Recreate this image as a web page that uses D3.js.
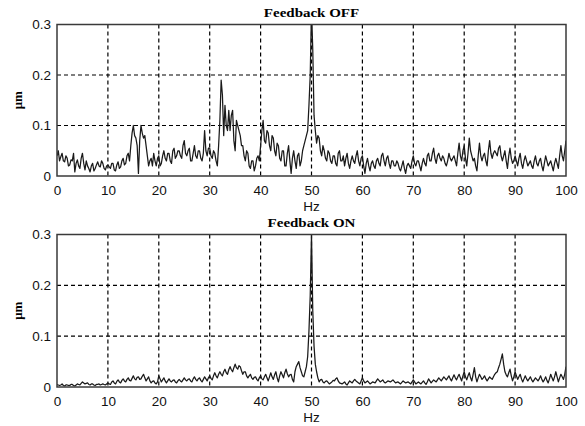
<!DOCTYPE html>
<html><head><meta charset="utf-8">
<script src="https://cdn.jsdelivr.net/npm/d3@7"></script>
<style>body{margin:0;background:#fff}svg{display:block}</style>
</head><body>
<svg id="c" width="585" height="426"></svg>
<script>
const freqStep = 0.25; // Hz between samples
const xTicks = [0,10,20,30,40,50,60,70,80,90,100];
const yTicks = [0,0.1,0.2,0.3];
const titles = ["Feedback OFF","Feedback ON"];
// amplitude (μm), one row per Hz: f, f+.25, f+.5, f+.75
const offValues = [
0.040,0.050,0.030,0.038, 0.045,0.030,0.028,0.040, 0.035,0.020,0.022,0.032, 0.030,0.045,0.008,0.025,
0.032,0.020,0.015,0.035, 0.045,0.025,0.012,0.030, 0.020,0.015,0.008,0.020, 0.025,0.010,0.015,0.022,
0.028,0.020,0.018,0.030, 0.025,0.015,0.012,0.020, 0.022,0.018,0.015,0.025, 0.025,0.012,0.010,0.022,
0.028,0.015,0.018,0.030, 0.035,0.022,0.025,0.040, 0.045,0.030,0.060,0.085, 0.100,0.080,0.075,0.060,
0.005,0.070,0.100,0.085, 0.075,0.080,0.060,0.040, 0.020,0.030,0.035,0.020, 0.045,0.030,0.020,0.035,
0.040,0.020,0.025,0.040, 0.050,0.035,0.030,0.045, 0.045,0.030,0.025,0.050, 0.055,0.035,0.040,0.050,
0.050,0.040,0.035,0.060, 0.070,0.045,0.040,0.050, 0.055,0.030,0.030,0.045, 0.060,0.040,0.035,0.050,
0.050,0.035,0.030,0.045, 0.090,0.050,0.040,0.055, 0.055,0.040,0.035,0.050, 0.045,0.030,0.020,0.060,
0.110,0.190,0.160,0.080, 0.140,0.100,0.090,0.130, 0.090,0.120,0.130,0.070, 0.050,0.110,0.100,0.090,
0.080,0.060,0.060,0.040, 0.030,0.050,0.045,0.020, 0.015,0.030,0.030,0.010, 0.020,0.035,0.040,0.030,
0.060,0.090,0.110,0.070, 0.065,0.090,0.085,0.060, 0.050,0.080,0.075,0.050, 0.040,0.065,0.060,0.035,
0.030,0.050,0.050,0.020, 0.020,0.045,0.060,0.030, 0.005,0.035,0.050,0.030, 0.015,0.040,0.045,0.020,
0.030,0.050,0.060,0.070, 0.080,0.090,0.140,0.200, 0.330,0.250,0.120,0.090, 0.065,0.080,0.075,0.050,
0.040,0.060,0.050,0.035, 0.030,0.050,0.045,0.030, 0.025,0.040,0.040,0.025, 0.020,0.045,0.050,0.030,
0.030,0.040,0.020,0.035, 0.045,0.025,0.015,0.030, 0.040,0.030,0.025,0.040, 0.050,0.030,0.020,0.035,
0.040,0.020,0.005,0.025, 0.035,0.020,0.010,0.025, 0.030,0.020,0.015,0.030, 0.035,0.025,0.020,0.040,
0.045,0.030,0.020,0.035, 0.040,0.025,0.015,0.030, 0.030,0.020,0.020,0.030, 0.025,0.015,0.010,0.020,
0.030,0.015,0.005,0.020, 0.025,0.020,0.015,0.030, 0.040,0.025,0.020,0.030, 0.030,0.020,0.010,0.025,
0.035,0.025,0.020,0.040, 0.045,0.030,0.030,0.045, 0.055,0.035,0.025,0.040, 0.045,0.035,0.030,0.040,
0.035,0.025,0.020,0.030, 0.045,0.035,0.030,0.035, 0.040,0.030,0.020,0.045, 0.065,0.040,0.030,0.050,
0.060,0.035,0.020,0.045, 0.075,0.050,0.040,0.030, 0.035,0.020,0.010,0.040, 0.065,0.040,0.030,0.040,
0.045,0.030,0.020,0.050, 0.070,0.045,0.035,0.045, 0.050,0.045,0.040,0.055, 0.060,0.040,0.030,0.040,
0.050,0.030,0.015,0.040, 0.055,0.035,0.025,0.030, 0.040,0.030,0.020,0.035, 0.045,0.025,0.015,0.030,
0.040,0.030,0.020,0.025, 0.030,0.020,0.015,0.030, 0.040,0.025,0.020,0.030, 0.035,0.020,0.010,0.025,
0.040,0.030,0.020,0.025, 0.030,0.020,0.010,0.025, 0.035,0.025,0.015,0.040, 0.060,0.040,0.030,0.050,
0.070];
const onValues = [
0.005,0.004,0.003,0.004, 0.006,0.003,0.002,0.004, 0.004,0.003,0.003,0.005, 0.005,0.003,0.002,0.004,
0.006,0.005,0.004,0.007, 0.010,0.008,0.006,0.007, 0.008,0.005,0.004,0.006, 0.006,0.004,0.003,0.005,
0.005,0.006,0.004,0.005, 0.006,0.005,0.004,0.006, 0.008,0.006,0.005,0.010, 0.012,0.008,0.006,0.011,
0.014,0.010,0.008,0.013, 0.016,0.012,0.010,0.015, 0.018,0.013,0.012,0.017, 0.022,0.016,0.014,0.019,
0.020,0.015,0.016,0.021, 0.025,0.018,0.012,0.016, 0.020,0.012,0.008,0.011, 0.012,0.008,0.006,0.010,
0.022,0.016,0.010,0.014, 0.018,0.012,0.008,0.012, 0.016,0.012,0.010,0.013, 0.014,0.010,0.008,0.012,
0.015,0.012,0.010,0.014, 0.018,0.014,0.012,0.015, 0.016,0.012,0.010,0.016, 0.020,0.015,0.012,0.016,
0.018,0.013,0.010,0.015, 0.020,0.016,0.012,0.018, 0.022,0.017,0.014,0.022, 0.028,0.022,0.018,0.025,
0.030,0.025,0.022,0.030, 0.035,0.028,0.025,0.034, 0.040,0.034,0.030,0.038, 0.045,0.038,0.035,0.042,
0.040,0.032,0.025,0.030, 0.030,0.022,0.018,0.022, 0.025,0.018,0.015,0.019, 0.020,0.015,0.012,0.018,
0.022,0.016,0.014,0.020, 0.025,0.018,0.012,0.020, 0.028,0.020,0.015,0.024, 0.030,0.018,0.010,0.022,
0.030,0.024,0.018,0.028, 0.035,0.026,0.020,0.024, 0.025,0.015,0.010,0.030, 0.040,0.045,0.050,0.038,
0.030,0.022,0.020,0.030, 0.040,0.060,0.110,0.180, 0.300,0.150,0.080,0.045, 0.030,0.018,0.010,0.014,
0.015,0.010,0.008,0.011, 0.012,0.009,0.006,0.008, 0.010,0.013,0.012,0.016, 0.018,0.012,0.008,0.007,
0.006,0.008,0.010,0.006, 0.004,0.008,0.012,0.010, 0.008,0.012,0.015,0.012, 0.010,0.008,0.006,0.012,
0.018,0.012,0.008,0.010, 0.012,0.009,0.006,0.008, 0.010,0.009,0.008,0.012, 0.016,0.013,0.010,0.012,
0.014,0.010,0.008,0.010, 0.012,0.011,0.010,0.012, 0.014,0.011,0.008,0.009, 0.010,0.008,0.006,0.009,
0.012,0.010,0.008,0.009, 0.010,0.008,0.006,0.010, 0.014,0.010,0.006,0.008, 0.010,0.008,0.006,0.009,
0.012,0.008,0.005,0.010, 0.016,0.012,0.008,0.011, 0.014,0.012,0.010,0.014, 0.018,0.015,0.012,0.016,
0.020,0.017,0.014,0.018, 0.022,0.016,0.012,0.018, 0.024,0.018,0.014,0.020, 0.025,0.018,0.012,0.022,
0.030,0.020,0.014,0.022, 0.028,0.018,0.012,0.025, 0.038,0.020,0.010,0.018, 0.025,0.020,0.015,0.018,
0.022,0.016,0.012,0.016, 0.020,0.017,0.015,0.020, 0.025,0.028,0.030,0.038, 0.045,0.055,0.065,0.045,
0.030,0.024,0.020,0.028, 0.035,0.022,0.012,0.020, 0.030,0.022,0.015,0.020, 0.025,0.016,0.010,0.016,
0.022,0.016,0.012,0.016, 0.020,0.014,0.010,0.014, 0.018,0.015,0.012,0.016, 0.022,0.015,0.010,0.014,
0.020,0.013,0.008,0.016, 0.025,0.018,0.012,0.020, 0.030,0.020,0.010,0.018, 0.025,0.020,0.015,0.025,
0.040];
const series = [offValues, onValues];

const svg = d3.select("#c");
const left = 57, right = 566;
const panels = [{top:24.5,bottom:176},{top:234.5,bottom:387}];
const x = d3.scaleLinear().domain([0,100]).range([left,right]);
const sans = "Liberation Sans, Arial, sans-serif";
const serif = "Liberation Serif, Times New Roman, serif";

panels.forEach((p, k) => {
  const y = d3.scaleLinear().domain([0,0.3]).range([p.bottom,p.top]);
  const g = svg.append("g");
  const cid = "clip"+k;
  svg.append("defs").append("clipPath").attr("id",cid)
    .append("rect").attr("x",left).attr("y",p.top).attr("width",right-left).attr("height",p.bottom-p.top);

  // grid
  g.selectAll(".vg").data(xTicks.slice(1,-1)).enter().append("line")
    .attr("x1",d=>x(d)).attr("x2",d=>x(d)).attr("y1",p.top).attr("y2",p.bottom)
    .attr("stroke","#000").attr("stroke-width",1.2).attr("stroke-dasharray","4,3");
  g.selectAll(".hg").data(yTicks.slice(1,-1)).enter().append("line")
    .attr("x1",left).attr("x2",right).attr("y1",d=>y(d)).attr("y2",d=>y(d))
    .attr("stroke","#000").attr("stroke-width",1.2).attr("stroke-dasharray","4,3");

  // data
  const line = d3.line().x((d,i)=>x(i*freqStep)).y(d=>y(d));
  g.append("path").datum(series[k]).attr("d",line)
    .attr("clip-path","url(#"+cid+")")
    .attr("fill","none").attr("stroke","#1a1a1a").attr("stroke-width",1.25).attr("stroke-linejoin","round");

  // frame
  g.append("rect").attr("x",left).attr("y",p.top).attr("width",right-left).attr("height",p.bottom-p.top)
    .attr("fill","none").attr("stroke","#3a3a3a").attr("stroke-width",1.5);

  // axes
  const xa = g.append("g").attr("transform",`translate(0,${p.bottom})`)
    .call(d3.axisBottom(x).tickValues(xTicks).tickFormat(d3.format("d")).tickSize(0).tickPadding(9));
  xa.select(".domain").remove();
  xa.selectAll("text").attr("font-family",sans).attr("font-size",13.5).attr("fill","#111");
  const ya = g.append("g").attr("transform",`translate(${left},0)`)
    .call(d3.axisLeft(y).tickValues(yTicks).tickFormat(d=>d===0?"0":d3.format(".1f")(d)).tickSize(0).tickPadding(6));
  ya.select(".domain").remove();
  ya.selectAll("text").attr("font-family",sans).attr("font-size",13.5).attr("fill","#111");

  // title
  g.append("text").attr("transform",`translate(${(left+right)/2},${p.top-8}) scale(1.2,1)`).attr("text-anchor","middle")
    .attr("font-family",serif).attr("font-weight","bold").attr("font-size",12.5)
    .text(titles[k]);
  // x label
  g.append("text").attr("x",(left+right)/2).attr("y",p.bottom+35).attr("text-anchor","middle")
    .attr("font-family",sans).attr("font-size",13.5).attr("fill","#111").text("Hz");
  // y label
  g.append("text").attr("transform",`translate(22,${(p.top+p.bottom)/2}) rotate(-90)`).attr("text-anchor","middle")
    .attr("font-family",serif).attr("font-weight","bold").attr("font-size",13)
    .text("μm");
});
</script>
</body></html>
